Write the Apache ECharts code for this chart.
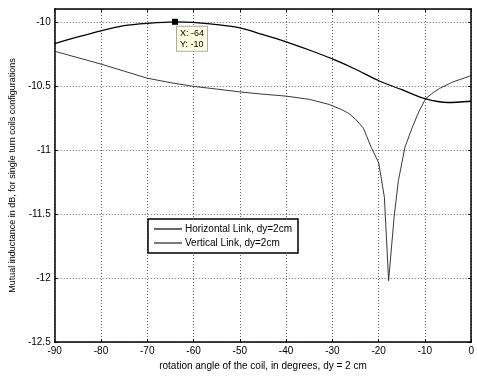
<!DOCTYPE html>
<html><head><meta charset="utf-8">
<script src="https://cdn.jsdelivr.net/npm/echarts@6/dist/echarts.min.js"></script>
<style>html,body{margin:0;padding:0;background:#fff}#c{width:477px;height:376px}</style>
</head><body><div id="c"></div>
<script>
const horizX = [-90,-85,-80,-75,-70,-64,-60,-55,-50,-45,-40,-35,-30,-25,-20,-15,-10,-5,0];
const horizY = [-10.17,-10.118,-10.07,-10.03,-10.012,-10.0,-10.004,-10.022,-10.048,-10.1,-10.156,-10.22,-10.29,-10.37,-10.46,-10.53,-10.6,-10.63,-10.62];
const vertX = [-90,-85,-80,-75,-70,-65,-60,-55,-50,-45,-40,-35,-30.7,-28,-26.5,-25,-23.3,-21.6,-20,-18.76,-17.85,-16.65,-15.74,-14.33,-12.8,-11.3,-9.85,-8.3,-6.84,-4,-2,0];
const vertY = [-10.23,-10.28,-10.33,-10.385,-10.44,-10.475,-10.504,-10.525,-10.547,-10.565,-10.58,-10.605,-10.645,-10.685,-10.714,-10.76,-10.83,-10.98,-11.1,-11.37,-12.02,-11.52,-11.24,-10.98,-10.83,-10.7,-10.6,-10.555,-10.52,-10.47,-10.445,-10.42];
const xTicks = [-90,-80,-70,-60,-50,-40,-30,-20,-10,0];
const yTicks = [-12.5,-12,-11.5,-11,-10.5,-10];
const tipPoint = [-64, -10];
const seriesNames = ['Horizontal Link, dy=2cm', 'Vertical Link, dy=2cm'];

const font = 'Liberation Sans, Arial, sans-serif';
const chart = echarts.init(document.getElementById('c'), null, {renderer:'canvas'});
const gridLine = {show:true, lineStyle:{color:'#666', type:[1,2], width:1}};
const frame = {show:true, onZero:false, lineStyle:{color:'#000', width:1.5}};
const tick = {show:true, inside:true, length:3, lineStyle:{color:'#000'}};
chart.setOption({
  animation:false,
  backgroundColor:'#fff',
  grid:{left:48, right:1, top:9, bottom:28, containLabel:false},
  xAxis:[{
    type:'value', min:xTicks[0], max:xTicks[xTicks.length-1], interval:10,
    axisLine:frame, axisTick:tick, splitLine:gridLine,
    axisLabel:{color:'#000', fontFamily:font, fontSize:10, margin:4,
      formatter:v=>xTicks.includes(v)?String(v):''},
    name:'rotation angle of the coil, in degrees, dy = 2 cm', nameLocation:'middle', nameGap:18,
    nameTextStyle:{color:'#000', fontFamily:font, fontSize:10}
  },{
    type:'value', position:'top', min:xTicks[0], max:xTicks[xTicks.length-1], interval:10,
    axisLine:frame, axisTick:tick, splitLine:{show:false}, axisLabel:{show:false}
  }],
  yAxis:[{
    type:'value', min:yTicks[0], max:-9.9, interval:0.5,
    axisLine:frame, axisTick:tick, splitLine:gridLine,
    axisLabel:{color:'#000', fontFamily:font, fontSize:10, margin:4, showMaxLabel:false,
      formatter:v=>yTicks.some(t=>Math.abs(t-v)<1e-9)?String(v):''},
    name:'Mutual inductance in dB, for single turn coils configurations', nameLocation:'middle', nameGap:34,
    nameTextStyle:{color:'#000', fontFamily:font, fontSize:9}
  },{
    type:'value', position:'right', min:yTicks[0], max:-9.9, interval:0.5,
    axisLine:frame, axisTick:tick, splitLine:{show:false}, axisLabel:{show:false}
  }],
  legend:{
    left:148, top:219, orient:'vertical', padding:[5,6,5,6], itemGap:4,
    icon:'rect', itemWidth:28, itemHeight:1.2, backgroundColor:'#fff',
    borderColor:'#000', borderWidth:1.5,
    textStyle:{color:'#000', fontFamily:font, fontSize:10, padding:[0,0,0,-2]},
    data:seriesNames
  },
  series:[{
    name:seriesNames[0], type:'line', symbol:'none', z:3, smooth:0.25,
    data:horizX.map((x,i)=>[x,horizY[i]]),
    lineStyle:{color:'#000', width:1.3}, itemStyle:{color:'#000'},
    markPoint:{
      symbol:'rect', symbolSize:6, itemStyle:{color:'#000'},
      data:[{coord:tipPoint}],
      label:{show:true, position:[5,8], align:'left', verticalAlign:'top',
        formatter:'X: '+tipPoint[0]+'\nY: '+tipPoint[1],
        color:'#000', fontFamily:font, fontSize:9, lineHeight:11,
        backgroundColor:'#ffffe1', borderColor:'#aaa', borderWidth:1, padding:[1,3,1,3]}
    }
  },{
    name:seriesNames[1], type:'line', symbol:'none', z:2,
    data:vertX.map((x,i)=>[x,vertY[i]]),
    lineStyle:{color:'#222', width:0.9}, itemStyle:{color:'#222'}
  }]
});
</script></body></html>
